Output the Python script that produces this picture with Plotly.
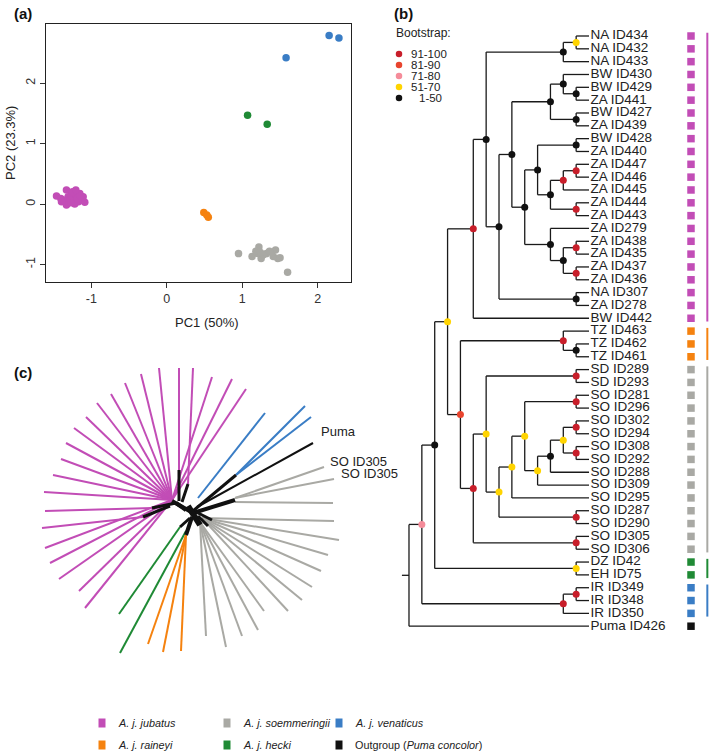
import plotly.graph_objects as go

W, H = 709, 754
FONT = "Liberation Sans, Arial, sans-serif"
TXT = "#222222"

# ---------------- colours ----------------
COL = {
    "jubatus": "#C24DB6",
    "raineyi": "#F5820F",
    "soemmeringii": "#A9A9A4",
    "hecki": "#1F8A35",
    "venaticus": "#3A7DC5",
    "outgroup": "#111111",
}
BOOT_COL = {"r": "#C81E2A", "o": "#E8442E", "p": "#F58C9A", "y": "#FFD400", "k": "#111111"}
BOOT_LABELS = ["91-100", "81-90", "71-80", "51-70", "1-50"]
BOOT_KEYS = ["r", "o", "p", "y", "k"]

# ---------------- panel (a) PCA data ----------------
pc_jub_x = [-1.461, -1.404, -1.329, -1.307, -1.338, -1.263, -1.232, -1.205, -1.152, -1.130, -1.170,
            -1.086, -1.285, -1.373, -1.219, -1.329, -1.108, -1.188, -1.249, -1.395, -1.143, -1.272, -1.205]
pc_jub_y = [0.132, 0.094, 0.231, 0.121, 0.039, 0.149, 0.066, 0.149, 0.176, 0.094, 0.039,
            0.028, 0.066, 0.066, 0.000, -0.017, 0.121, 0.094, 0.204, 0.039, 0.138, 0.022, 0.231]
pc_rai_x = [0.49, 0.53, 0.55]
pc_rai_y = [-0.14, -0.18, -0.22]
pc_soe_x = [0.95, 1.60, 1.22, 1.13, 1.25, 1.32, 1.41, 1.20, 1.47, 1.50, 1.44, 1.18, 1.28, 1.36, 1.24]
pc_soe_y = [-0.82, -1.13, -0.71, -0.87, -0.90, -0.82, -0.87, -0.82, -0.90, -0.89, -0.76, -0.78, -0.84, -0.78, -0.80]
pc_hec_x = [1.07, 1.33]
pc_hec_y = [1.47, 1.32]
pc_ven_x = [2.15, 2.28, 1.58]
pc_ven_y = [2.79, 2.75, 2.42]
pc_xticks = [-1, 0, 1, 2]
pc_yticks = [-1, 0, 1, 2]

# ---------------- panel (b) tree ----------------
def N(b, *kids):
    return {"b": b, "kids": list(kids)}

tree = N(None,
  N("p",
    N("k",
      N("y",
        N("r",
          N("k",
            N("k", N("y", "NA ID434", "NA ID432"), "NA ID433"),
            N("k",
              N("k",
                N("k",
                  N("k", "BW ID430", N("k", "BW ID429", "ZA ID441")),
                  N("k", "BW ID427", "ZA ID439")),
                N("k",
                  N("k",
                    N("k", "BW ID428", "ZA ID440"),
                    N("k",
                      N("r", N("r", "ZA ID447", "ZA ID446"), "ZA ID445"),
                      N("r", "ZA ID444", "ZA ID443"))),
                  N("k", "ZA ID279",
                    N("k", N("r", "ZA ID438", "ZA ID435"), N("r", "ZA ID437", "ZA ID436"))))),
              N("k", "NA ID307", "ZA ID278"))),
          "BW ID442"),
        N("o",
          N("r", "TZ ID463", N("k", "TZ ID462", "TZ ID461")),
          N("r",
            N("y",
              N("r", "SD ID289", "SD ID293"),
              N("y",
                N("y",
                  N("y",
                    N("r", "SO ID281", "SO ID296"),
                    N("y",
                      N("k",
                        N("y", N("r", "SO ID302", "SO ID294"), N("r", "SO ID308", "SO ID292")),
                        "SO ID288"),
                      "SO ID309")),
                  "SO ID295"),
                N("r", "SO ID287", "SO ID290"))),
            N("r", "SO ID305", "SO ID306")))),
      N("y", "DZ ID42", "EH ID75")),
    N("r", N("r", "IR ID349", "IR ID348"), "IR ID350")),
  "Puma ID426")

# group of each tip, in tip order (top to bottom)
tip_groups = (["jubatus"] * 23 + ["raineyi"] * 3 + ["soemmeringii"] * 15 +
              ["hecki"] * 2 + ["venaticus"] * 3 + ["outgroup"])

# ---------------- panel (c) unrooted tree (offsets from the centre) ----------------
c_jub_end = [(56, 123), (42, 133), (22, 135), (3, 144), (-11, 144), (-31, 144), (-49, 138), (-65, 129),
             (-79, 118), (-93, 109), (-104, 95), (-116, 84), (-124, 69), (-129, 53), (-137, 37),
             (-146, 20), (-145, 1), (-148, -16), (-145, -36), (-140, -51), (-131, -67), (-111, -79), (-105, -96)]
c_jub_start = [(-18, 12), (-18, 12), (-18, 12), (-2, 28), (-11, 42), (-18, 12), (-18, 12), (-18, 12),
               (-18, 12), (-18, 12), (-18, 12), (-18, 12), (-18, 12), (-18, 12), (-18, 12),
               (-18, 12), (-38, 4), (-47, -5), (-18, 12), (-18, 12), (-18, 12), (-18, 12), (-18, 12)]
c_ven_end = [(75, 99), (115, 106), (121, 95)]
c_ven_start = [(8, 14), (46, 37), (46, 37)]
c_out_end = [(123, 69)]
c_out_start = [(7, 5)]
c_soe_end = [(134, 45), (144, 33), (143, 9), (144, -9), (149, -28), (138, -43), (131, -59), (122, -75),
             (112, -88), (98, -99), (74, -99), (68, -118), (52, -124), (36, -135), (16, -124)]
c_soe_start = [(45, 14), (45, 14), (45, 10), (12, -6), (12, -6), (12, -6), (12, -6), (12, -6),
               (12, -6), (12, -6), (10, -10), (10, -10), (10, -10), (10, -10), (10, -10)]
c_hec_end = [(-71, -102), (-70, -141)]
c_hec_start = [(-10, -15), (-4, -19)]
c_rai_end = [(-42, -132), (-27, -140), (-9, -139)]
c_rai_start = [(-4, -23), (-4, -23), (-4, -23)]
c_inner = [((-11, 42), (-11, 11), 3), ((-2, 28), (-8, 10), 3), ((-47, -5), (-20, 6), 3),
           ((-38, 4), (-14, 9), 3), ((-18, 11), (3, -1), 4), ((3, 1), (46, 37), 3),
           ((3, -1), (45, 12), 4), ((-2, 6), (10, -13), 6), ((2, -5), (-4, -23), 4),
           ((0, -6), (-10, -15), 3), ((6, 0), (22, -8), 3), ((8, -4), (18, -14), 3),
           ((-14, 9), (-4, 2), 4)]
c_labels = [("Puma", 131, 79), ("SO ID305", 140, 49), ("SO ID305", 151, 37)]

legend_rows = [["jubatus", "soemmeringii", "venaticus"], ["raineyi", "hecki", "outgroup"]]
legend_text = {
    "jubatus": "<i>A. j. jubatus</i>",
    "raineyi": "<i>A. j. raineyi</i>",
    "soemmeringii": "<i>A. j. soemmeringii</i>",
    "hecki": "<i>A. j. hecki</i>",
    "venaticus": "<i>A. j. venaticus</i>",
    "outgroup": "Outgroup (<i>Puma concolor</i>)",
}

# =================================================================
fig = go.Figure()

# ---- panel (a)
for xs, ys, g in [(pc_jub_x, pc_jub_y, "jubatus"), (pc_rai_x, pc_rai_y, "raineyi"),
                  (pc_soe_x, pc_soe_y, "soemmeringii"), (pc_hec_x, pc_hec_y, "hecki"),
                  (pc_ven_x, pc_ven_y, "venaticus")]:
    fig.add_trace(go.Scatter(x=xs, y=ys, mode="markers", xaxis="x", yaxis="y",
                             marker=dict(size=7.5, color=COL[g], line=dict(width=0)),
                             showlegend=False, hoverinfo="skip"))

# ---- panel (b): layout of tree
tips = []
def collect(n):
    if isinstance(n, str):
        tips.append(n)
    else:
        for k in n["kids"]:
            collect(k)
collect(tree)
tip_idx = {t: i + 1 for i, t in enumerate(tips)}

def height(n):
    if isinstance(n, str):
        return 0
    return 1 + max(height(k) for k in n["kids"])

ROOT_H = height(tree)
seg_x, seg_y = [], []
dots = {k: ([], []) for k in BOOT_KEYS}

def layout(n):
    if isinstance(n, str):
        return ROOT_H, tip_idx[n]
    x = ROOT_H - height(n)
    pos = [layout(k) for k in n["kids"]]
    y = (pos[0][1] + pos[-1][1]) / 2
    seg_x.extend([x, x, None]); seg_y.extend([pos[0][1], pos[-1][1], None])
    for cx, cy in pos:
        seg_x.extend([x, cx, None]); seg_y.extend([cy, cy, None])
    if n["b"] is not None:
        dots[n["b"]][0].append(x); dots[n["b"]][1].append(y)
    return x, y

rx, ry = layout(tree)
seg_x.extend([rx - 0.55, rx, None]); seg_y.extend([ry, ry, None])

fig.add_trace(go.Scatter(x=seg_x, y=seg_y, mode="lines", xaxis="x2", yaxis="y2",
                         line=dict(color="#1a1a1a", width=1.3), showlegend=False, hoverinfo="skip"))
for k in BOOT_KEYS:
    if dots[k][0]:
        fig.add_trace(go.Scatter(x=dots[k][0], y=dots[k][1], mode="markers", xaxis="x2", yaxis="y2",
                                 marker=dict(size=7, color=BOOT_COL[k], line=dict(width=0)),
                                 showlegend=False, hoverinfo="skip"))
ty = [tip_idx[t] for t in tips]
fig.add_trace(go.Scatter(x=[ROOT_H + 0.12] * len(tips), y=ty, text=tips, mode="text",
                         textposition="middle right", xaxis="x2", yaxis="y2",
                         textfont=dict(family=FONT, size=13.5, color=TXT),
                         showlegend=False, hoverinfo="skip"))
SQ_X = ROOT_H + 7.93
BAR_X = ROOT_H + 9.2
fig.add_trace(go.Scatter(x=[SQ_X] * len(tips), y=ty, mode="markers", xaxis="x2", yaxis="y2",
                         marker=dict(symbol="square", size=7.5, color=[COL[g] for g in tip_groups],
                                     line=dict(width=0)),
                         showlegend=False, hoverinfo="skip"))
for g in ["jubatus", "raineyi", "soemmeringii", "hecki", "venaticus"]:
    idx = [i + 1 for i, gg in enumerate(tip_groups) if gg == g]
    fig.add_trace(go.Scatter(x=[BAR_X, BAR_X], y=[min(idx) - 0.25, max(idx) + 0.25], mode="lines",
                             xaxis="x2", yaxis="y2", line=dict(color=COL[g], width=2),
                             showlegend=False, hoverinfo="skip"))

# ---- panel (c)
def add_branches(starts, ends, color, width):
    xs, ys = [], []
    for (sx, sy), (ex, ey) in zip(starts, ends):
        xs.extend([sx, ex, None]); ys.extend([sy, ey, None])
    fig.add_trace(go.Scatter(x=xs, y=ys, mode="lines", xaxis="x3", yaxis="y3",
                             line=dict(color=color, width=width), showlegend=False, hoverinfo="skip"))

add_branches(c_jub_start, c_jub_end, COL["jubatus"], 2)
add_branches(c_ven_start, c_ven_end, COL["venaticus"], 2)
add_branches(c_soe_start, c_soe_end, COL["soemmeringii"], 2)
add_branches(c_hec_start, c_hec_end, COL["hecki"], 2)
add_branches(c_rai_start, c_rai_end, COL["raineyi"], 2)
add_branches(c_out_start, c_out_end, "#111111", 2)
for (s, e, w) in c_inner:
    add_branches([s], [e], "#111111", w)
for txt, lx, ly in c_labels:
    fig.add_trace(go.Scatter(x=[lx], y=[ly], text=[txt], mode="text", textposition="middle right",
                             xaxis="x3", yaxis="y3", textfont=dict(family=FONT, size=13, color=TXT),
                             showlegend=False, hoverinfo="skip"))

# ---- bootstrap legend (pixel overlay axis)
bl_y = [54, 65, 76, 87, 98]
fig.add_trace(go.Scatter(x=[399] * 5, y=bl_y, mode="markers", xaxis="x4", yaxis="y4",
                         marker=dict(size=6.5, color=[BOOT_COL[k] for k in BOOT_KEYS], line=dict(width=0)),
                         showlegend=False, hoverinfo="skip"))

ann = []
def A(text, x, y, size=12, xanchor="left", bold=False, angle=0, family=FONT):
    ann.append(dict(text=("<b>%s</b>" % text) if bold else text, x=x / W, y=1 - y / H,
                    xref="paper", yref="paper", xanchor=xanchor, yanchor="middle",
                    showarrow=False, textangle=angle,
                    font=dict(family=family, size=size, color=TXT if not bold else "#111")))

A("(a)", 12, 13, 15, bold=True)
A("(b)", 392, 13, 15, bold=True)
A("(c)", 12, 372, 15, bold=True)
A("PC1 (50%)", 207, 323, 13, xanchor="center")
A("PC2 (23.3%)", 10, 143, 13, xanchor="center", angle=-90)
A("Bootstrap:", 394, 33, 12)
for i, lab in enumerate(BOOT_LABELS):
    A(lab, 417 if lab == "1-50" else 409, bl_y[i], 11.5)

shapes = []
leg_x = [102, 227, 339]
leg_y = [723, 745]
for r, row in enumerate(legend_rows):
    for c, g in enumerate(row):
        cx, cy = leg_x[c], leg_y[r]
        shapes.append(dict(type="rect", xref="paper", yref="paper", x0=(cx - 3.5) / W, x1=(cx + 3.5) / W,
                           y0=1 - (cy + 4.5) / H, y1=1 - (cy - 4.5) / H,
                           fillcolor=COL[g], line=dict(width=0)))
        A(legend_text[g], cx + 14, cy, 10.8)

hid = dict(visible=False, showgrid=False, zeroline=False, fixedrange=True)
fig.update_layout(
    width=W, height=H, margin=dict(l=0, r=0, t=0, b=0),
    paper_bgcolor="white", plot_bgcolor="rgba(0,0,0,0)",
    showlegend=False, annotations=ann, shapes=shapes,
    xaxis=dict(domain=[46 / W, 351 / W], range=[-1.60, 2.44], tickvals=pc_xticks,
               ticktext=[str(v) for v in pc_xticks], ticks="outside", ticklen=5, tickcolor="#333",
               showline=True, mirror=True, linecolor="#222", linewidth=1.2, showgrid=False,
               zeroline=False, tickfont=dict(family=FONT, size=12.5, color="#333"), anchor="y",
               fixedrange=True),
    yaxis=dict(domain=[1 - 282 / H, 1 - 24 / H], range=[-1.29, 2.98], tickvals=pc_yticks,
               ticktext=[str(v) for v in pc_yticks], ticks="outside", ticklen=5, tickcolor="#333",
               tickangle=-90, showline=True, mirror=True, linecolor="#222", linewidth=1.2,
               showgrid=False, zeroline=False, tickfont=dict(family=FONT, size=12.5, color="#333"),
               anchor="x", fixedrange=True),
    xaxis2=dict(domain=[360 / W, 1], range=[-3.81, 23.33], anchor="y2", **hid),
    yaxis2=dict(domain=[0, 1], range=[56.96, -1.806], anchor="x2", **hid),
    xaxis3=dict(domain=[0, 1], range=[-190, 519], anchor="y3", **hid),
    yaxis3=dict(domain=[0, 1], range=[-242, 512], anchor="x3", **hid),
    xaxis4=dict(domain=[0, 1], range=[0, W], anchor="y4", **hid),
    yaxis4=dict(domain=[0, 1], range=[H, 0], anchor="x4", **hid),
)

fig.write_html("out.html", config={"displayModeBar": False},
               post_script="document.body.style.margin='0';document.body.style.padding='0';"
                           "document.documentElement.style.overflow='hidden';")
